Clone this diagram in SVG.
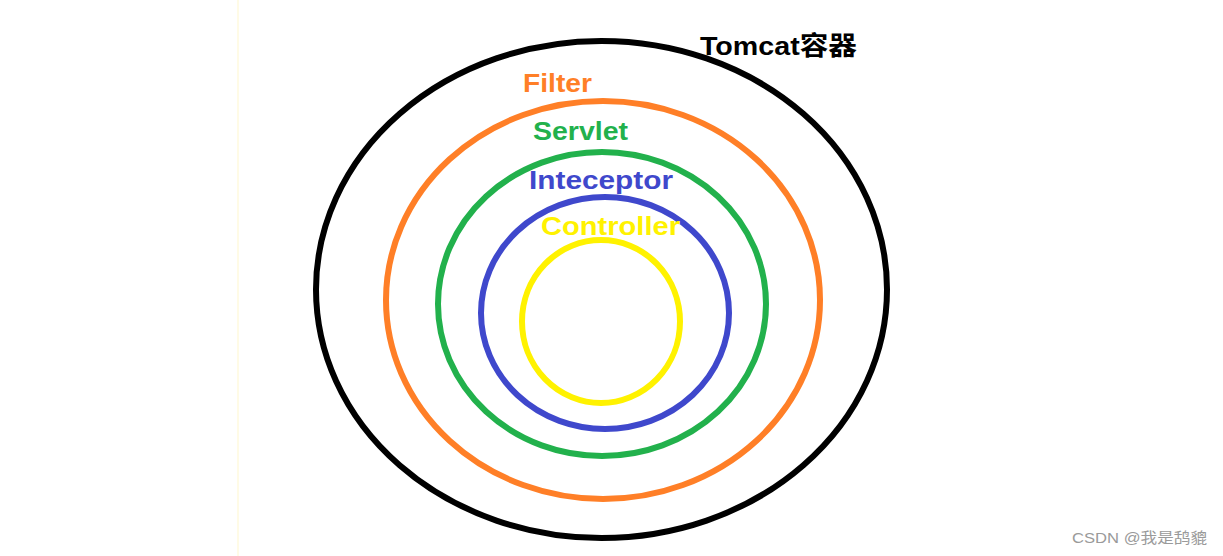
<svg xmlns="http://www.w3.org/2000/svg" width="1223" height="556" viewBox="0 0 1223 556">
  <style>
    .ring { fill: none; stroke-width: 6; }
    .lbl { font-family: "Liberation Sans", "Noto Sans CJK SC", sans-serif; font-weight: bold; font-size: 26px; }
    .wm { font-family: "Liberation Sans", "Noto Sans CJK SC", sans-serif; font-size: 15px; fill: #9a9a9a; }
  </style>
  <rect x="0" y="0" width="1223" height="556" fill="#ffffff"/>
  <line x1="238" y1="0" x2="238" y2="556" stroke="#fffbe6" stroke-width="2"/>
  <g id="tomcat">
    <ellipse class="ring" cx="601.5" cy="289.5" rx="285.5" ry="248.5" stroke="#000000" stroke-width="5"/>
    <text class="lbl" x="700" y="55" fill="#000000" font-size="28" textLength="157" lengthAdjust="spacingAndGlyphs">Tomcat容器</text>
  </g>
  <g id="filter">
    <ellipse class="ring" cx="603" cy="300" rx="217" ry="199" stroke="#ff7f27"/>
    <text class="lbl" x="523" y="92" fill="#ff7f27" textLength="69" lengthAdjust="spacingAndGlyphs">Filter</text>
  </g>
  <g id="servlet">
    <ellipse class="ring" cx="602" cy="304" rx="164" ry="152" stroke="#22b14c"/>
    <text class="lbl" x="533" y="140" fill="#22b14c" textLength="95" lengthAdjust="spacingAndGlyphs">Servlet</text>
  </g>
  <g id="interceptor">
    <ellipse class="ring" cx="605" cy="313" rx="124" ry="116" stroke="#3f48cc"/>
    <text class="lbl" x="529" y="189" fill="#3f48cc" textLength="144" lengthAdjust="spacingAndGlyphs">Inteceptor</text>
  </g>
  <g id="controller">
    <ellipse class="ring" cx="601" cy="321.5" rx="79" ry="81.5" stroke="#fff200"/>
    <text class="lbl" x="541" y="235" fill="#fff200" textLength="139" lengthAdjust="spacingAndGlyphs">Controller</text>
  </g>
  <text class="wm" x="1072" y="543" textLength="135" lengthAdjust="spacingAndGlyphs">CSDN @我是鸹貔</text>
</svg>
